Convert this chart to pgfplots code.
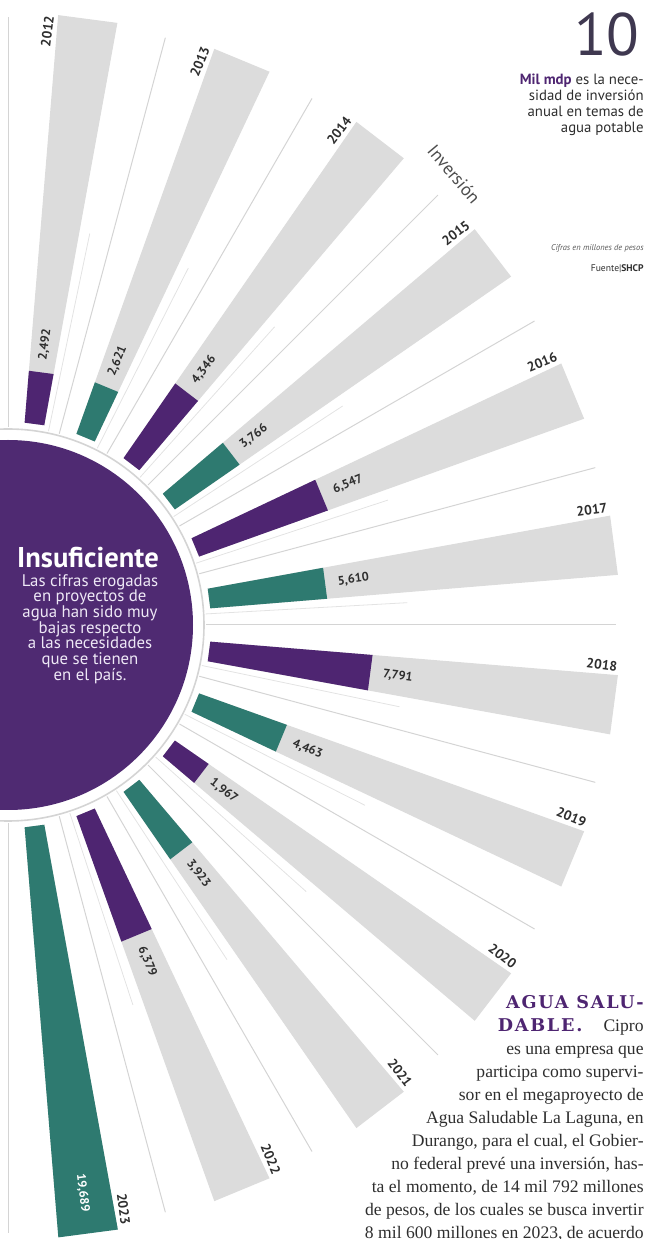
\documentclass[border=0pt]{standalone}
\usepackage{pgfplots}
\pgfplotsset{compat=1.18}
\usepackage{pgfplotstable}
\usepackage{fontspec}
\setmainfont{PT Sans}
\newfontfamily\serif{Liberation Serif}
\newfontfamily\slab{DejaVu Serif}
\definecolor{purp}{HTML}{4E2571}
\definecolor{circ}{HTML}{4F2A72}
\definecolor{teal2}{HTML}{2E7A70}
\definecolor{bargray}{HTML}{DCDCDC}
\definecolor{linegray}{HTML}{D4D4D4}
\definecolor{txt}{HTML}{2E2E2E}
\definecolor{lav}{HTML}{EEE8F6}
\definecolor{tengray}{HTML}{3F3850}

% year, angle of the bar (deg), investment (millions of pesos), label, colour
\pgfplotstableread{
year ang val lab col
2012 82.5 2492 2,492 purp
2013 67.5 2621 2,621 teal2
2014 52.5 4346 4,346 purp
2015 37.5 3766 3,766 teal2
2016 22.5 6547 6,547 purp
2017 7.5 5610 5,610 teal2
2018 -7.5 7791 7,791 purp
2019 -22.5 4463 4,463 teal2
2020 -37.5 1967 1,967 purp
2021 -52.5 3923 3,923 teal2
2022 -67.5 6379 6,379 purp
2023 -82.5 19689 19,689 teal2
}\bars

\newcommand\rin{203}      % inner radius of the bars
\newcommand\rout{612}     % outer radius of the grey bars
\newcommand\kpx{0.0209}   % px per million pesos
\newcommand\hw{2.8}       % half angular width of a bar
\newcommand\valfont{\fontsize{6.2}{7}\selectfont\bfseries}
\newcommand\yrfont{\fontsize{6.8}{7}\selectfont\bfseries}

\begin{document}
\begin{tikzpicture}
\begin{axis}[
  x=0.5pt, y=0.5pt,
  xmin=-8, xmax=637, ymin=-614, ymax=625,
  hide axis, clip=true,
]
\coordinate (SW) at (rel axis cs:0,0);
\coordinate (NE) at (rel axis cs:1,1);

% central circle and ring
\fill[circ] (axis cs:0,0) circle[radius=185];
\draw[linegray, line width=0.8pt] (axis cs:0,0) circle[radius=196];

% thin radial separator lines
\pgfplotsforeachungrouped \a in {-90,-75,...,90}{%
  \edef\cmd{%
    \noexpand\addplot[linegray, line width=0.5pt, data cs=polar] coordinates {(\a,198) (\a,608)};
  }\cmd
}
\pgfplotsforeachungrouped \a in {-75,-60,...,75}{%
  \edef\b{\fpeval{\a+3.2}}%
  \edef\cmd{%
    \noexpand\addplot[linegray!65, line width=0.4pt, data cs=polar] coordinates {(\b,198) (\b,400)};
  }\cmd
}

% bars
\pgfplotsforeachungrouped \i in {0,...,11}{%
  \pgfplotstablegetelem{\i}{ang}\of\bars \let\ang\pgfplotsretval
  \pgfplotstablegetelem{\i}{val}\of\bars \let\val\pgfplotsretval
  \pgfplotstablegetelem{\i}{col}\of\bars \let\col\pgfplotsretval
  \pgfplotstablegetelem{\i}{lab}\of\bars \let\lab\pgfplotsretval
  \pgfplotstablegetelem{\i}{year}\of\bars \let\yr\pgfplotsretval
  \edef\aL{\fpeval{\ang-\hw}}%
  \edef\aR{\fpeval{\ang+\hw}}%
  \edef\rE{\fpeval{\rin+\kpx*\val}}%
  \edef\isbig{\fpeval{\val>15000}}%
  \ifnum\isbig=1
    \edef\lx{\fpeval{(\rE-22)*cosd(\ang)}}%
    \edef\ly{\fpeval{(\rE-22)*sind(\ang)}}%
    \edef\labcmd{\noexpand\node[anchor=east, rotate=\ang, text=white, font=\noexpand\valfont, inner sep=0pt] at (axis cs:\lx,\ly) {\lab};}%
  \else
    \edef\lx{\fpeval{(\rE+12)*cosd(\ang)}}%
    \edef\ly{\fpeval{(\rE+12)*sind(\ang)}}%
    \edef\labcmd{\noexpand\node[anchor=west, rotate=\ang, text=txt, font=\noexpand\valfont, inner sep=0pt] at (axis cs:\lx,\ly) {\lab};}%
  \fi
  \edef\yx{\fpeval{611*cosd(\ang+3.6)}}%
  \edef\yy{\fpeval{611*sind(\ang+3.6)}}%
  \edef\cmd{%
    \noexpand\addplot[fill=bargray, draw=none, data cs=polar] coordinates {(\aL,\rin) (\aR,\rin) (\aR,\rout) (\aL,\rout)};
    \noexpand\addplot[fill=\col, draw=none, data cs=polar] coordinates {(\aL,\rin) (\aR,\rin) (\aR,\rE) (\aL,\rE)};
    \noexpand\node[anchor=east, rotate=\ang, text=txt, font=\noexpand\yrfont, inner sep=0pt] at (axis cs:\yx,\yy) {\yr};
  }\cmd
  \labcmd
}

% "Inversion" label
\node[rotate=-50, text=txt!85, font=\fontsize{9}{10}\selectfont] at (axis cs:446,451) {Inversión};

% text in circle
\node[text=white, font=\fontsize{14.3}{15}\selectfont\bfseries] at (axis cs:80,67) {Insuficiente};
\node[text=lav, align=center, font=\fontsize{8.4}{7.85}\selectfont] at (axis cs:82,-4)
  {Las cifras erogadas\\en proyectos de\\agua han sido muy\\bajas respecto\\a las necesidades\\que se tienen\\en el país.};

% top right
\node[anchor=north east, text=tengray, font=\fontsize{30}{30}\selectfont, inner sep=0pt] at (axis cs:632,613) {10};
\node[anchor=north east, align=right, text=txt, font=\fontsize{7.4}{8}\selectfont, inner sep=0pt] at (axis cs:636,551)
  {{\bfseries\color{purp}Mil mdp} es la nece-\\sidad de inversión\\anual en temas de\\agua potable};
\node[anchor=east, text=txt!80, font=\fontsize{4.2}{5}\selectfont\itshape, inner sep=0pt] at (axis cs:636,377) {Cifras en millones de pesos};
\node[anchor=east, text=txt, font=\fontsize{4.8}{5}\selectfont, inner sep=0pt] at (axis cs:636,356) {Fuente|\textbf{SHCP}};

% bottom paragraph
\node[anchor=north east, align=right, text=txt, font=\serif\fontsize{8.8}{11.5}\selectfont, inner sep=0pt] at (axis cs:636,-370)
  {{\slab\bfseries\color{purp}\addfontfeature{LetterSpace=10}AGUA SALU-}\\
   {\slab\bfseries\color{purp}\addfontfeature{LetterSpace=10}DABLE.}\hspace{1.2em}Cipro\\
   es una empresa que\\
   participa como supervi-\\
   sor en el megaproyecto de\\
   Agua Saludable La Laguna, en\\
   Durango, para el cual, el Gobier-\\
   no federal prevé una inversión, has-\\
   ta el momento, de 14 mil 792 millones\\
   de pesos, de los cuales se busca invertir\\
   8 mil 600 millones en 2023, de acuerdo};
\end{axis}
\pgfresetboundingbox
\path[use as bounding box] (SW) rectangle (NE);
\end{tikzpicture}
\end{document}
